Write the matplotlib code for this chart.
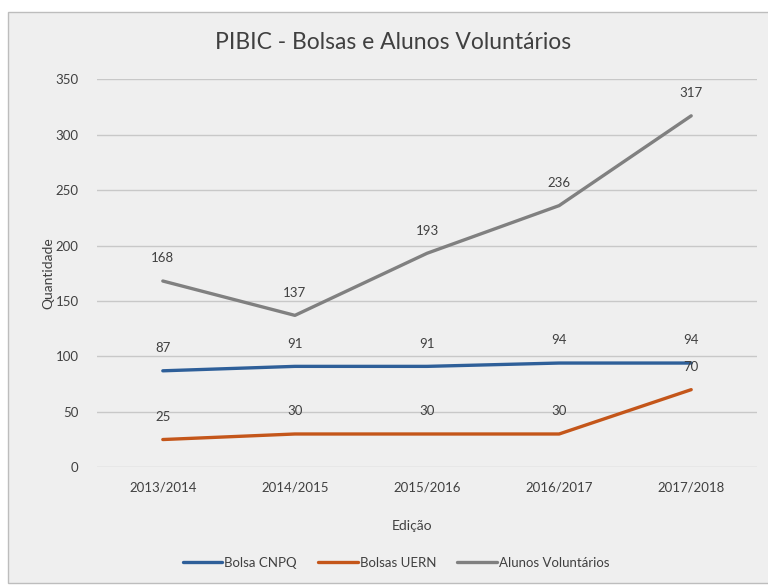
import matplotlib.pyplot as plt
from matplotlib.patches import Rectangle
import numpy as np

plt.rcParams['font.family'] = ['Lato', 'DejaVu Sans']

edicoes = ['2013/2014', '2014/2015', '2015/2016', '2016/2017', '2017/2018']
bolsa_cnpq = [87, 91, 91, 94, 94]
bolsas_uern = [25, 30, 30, 30, 70]
alunos_voluntarios = [168, 137, 193, 236, 317]

series = [
    ('Bolsa CNPQ', bolsa_cnpq, '#2e5f99'),
    ('Bolsas UERN', bolsas_uern, '#c4561a'),
    ('Alunos Voluntários', alunos_voluntarios, '#808080'),
]

bg = '#efefef'
fig = plt.figure(figsize=(7.68, 5.87), dpi=100, facecolor='white')
# chart frame
fig.patches.append(Rectangle((8 / 768, 4 / 587), 1.0, 1 - 16 / 587,
                             transform=fig.transFigure, facecolor=bg,
                             edgecolor='#bdbdbd', lw=1, zorder=-1))

ax = fig.add_axes([0.126, 0.204, 0.86, 0.661])
ax.set_zorder(2)
ax.patch.set_alpha(0)
x = np.arange(len(edicoes))

for name, vals, col in series:
    ax.plot(x, vals, color=col, lw=2.4, label=name, solid_capstyle='round')
    for xi, v in zip(x, vals):
        ax.annotate(str(v), (xi, v), xytext=(0, 12), textcoords='offset points',
                    ha='center', va='bottom', fontsize=9.5, color='#404040')

ax.set_xlim(-0.5, len(edicoes) - 0.5)
ax.set_ylim(0, 350)
ax.set_yticks(np.arange(0, 351, 50))
ax.set_xticks(x)
ax.set_xticklabels(edicoes)
ax.grid(axis='y', color='#c8c8c8', lw=1)
ax.set_axisbelow(True)
for s in ax.spines.values():
    s.set_visible(False)
ax.tick_params(axis='both', length=0, labelsize=9.5, colors='#404040')
ax.tick_params(axis='y', pad=13)
ax.tick_params(axis='x', pad=10)

ax.set_ylabel('Quantidade', fontsize=10, color='#404040', labelpad=1)
ax.set_xlabel('Edição', fontsize=10, color='#404040', labelpad=22)
ax.xaxis.set_label_coords(0.477, -0.135)
fig.text(0.512, 0.927, 'PIBIC - Bolsas e Alunos Voluntários', ha='center',
         va='center', fontsize=16.5, color='#404040')

ax.legend(loc='upper center', bbox_to_anchor=(0.453, -0.2), ncol=3,
          frameon=False, fontsize=9.5, handlelength=3.0, columnspacing=1.6,
          handletextpad=0.15, labelcolor='#404040')

fig.savefig('out.png', dpi=100, facecolor='white')
